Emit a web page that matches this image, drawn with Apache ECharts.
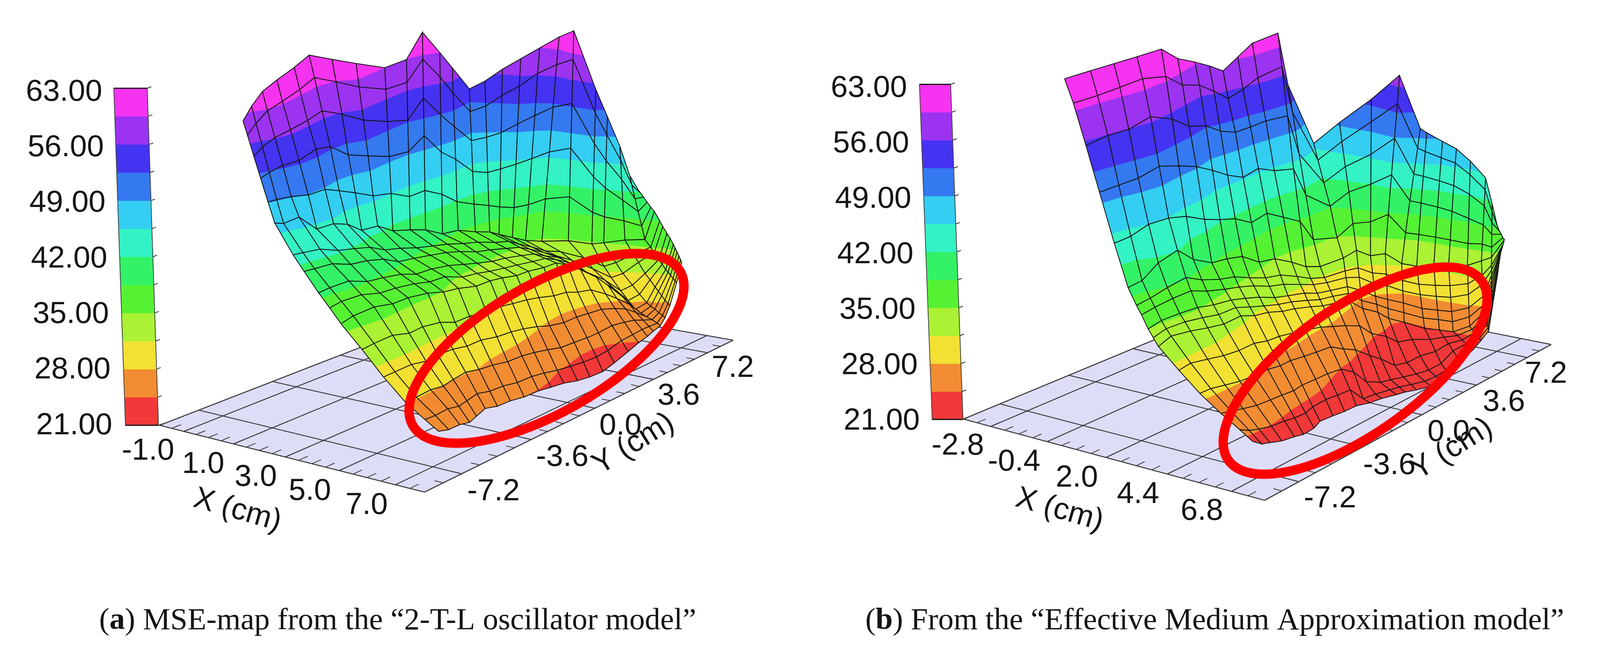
<!DOCTYPE html>
<html><head><meta charset="utf-8"><style>html,body{margin:0;background:#fff;overflow:hidden}#c{height:1672px}</style>
<script src="https://cdn.jsdelivr.net/npm/echarts@6/dist/echarts.min.js"></script></head><body><div id="c"></div><script>
const zBarTicks=['21.00','28.00','35.00','42.00','49.00','56.00','63.00'];
const bandLevels=[21,24.5,28,31.5,35,38.5,42,45.5,49,52.5,56,59.5,63];
const bandColors=['#F23838','#F28C33','#F2E033','#AAF233','#55F233','#33F266','#33F2C4','#33CEF2','#3479EF','#4433F0','#9B33F0','#F533F0'];
const leftXTicks=[-1,1,3,5,7], leftXMinor=0.5, leftXRange=[-2,8];
const rightXTicks=[-2.8,-0.4,2,4.4,6.8], rightXMinor=0.6, rightXRange=[-4,8];
const yTicks=[-7.2,-3.6,0,3.6,7.2], yMinor=0.9, yRange=[-9,9];
const crossFrac=[0,.073,.177,.287,.406,.515,.591,.636,.695,.74,.785,.833,.881,.929,.971,1];
const ctlFrac=[0,.515,.785,1];
const leftLineX=[[0,1.1,3.5,7.2],[0,1.2,3.5,7.2],[.1,1.4,3.6,7.1],[.1,1.7,3.7,7.1],[-.1,1.8,3.7,7],[-.3,1.8,3.8,6.9],[0,1.9,3.9,7],[.6,2,3.7,7],[.7,2,3.7,7.1],[.7,2.1,3.7,7.1],[.7,2.2,3.7,7.1],[1.2,2.3,3.8,7],[1.5,2.3,3.8,7],[1.5,2.5,3.9,6.9],[2,2.6,4,6.9],[2.5,2.7,4.2,6.9],[3.1,2.9,4.4,7],[3.6,3.1,4.9,7.1],[4.3,3.3,5.3,7.2],[5,4.1,5.8,7.3],[5.6,4.9,6.4,7.4],[5.8,5.3,6.6,7.4],[6.1,6,6.8,7.3],[6.3,6.7,7.2,7.5],[6.5,7,7.6,7.8]];
const leftLineY=[[-7.4,-7.2,-7,-7.2],[-7,-6.9,-6.4,-6.7],[-6.6,-6.4,-5.5,-6],[-5.9,-5.9,-4.7,-5.5],[-4.8,-5.2,-3.9,-5],[-3.8,-4.5,-3,-4.4],[-3,-3.9,-2.3,-3.9],[-2.5,-3.2,-1.2,-3.2],[-1.1,-2.4,-.2,-2.6],[.1,-1.6,.6,-1.8],[1,-.9,1.3,-1.1],[1.3,-.1,2,-.2],[1.6,.8,2.7,.6],[2.6,1.5,3.5,1.5],[2.8,2.2,4.1,2.3],[3.1,2.6,4.5,3],[3.3,3.1,5,3.7],[3.7,3.6,5.2,4.2],[3.8,4.3,5.3,4.6],[3.6,4.7,5.4,4.8],[4,4.9,5.2,5.1],[4.4,5,5.6,5.4],[4.7,5.2,5.8,5.9],[5,5.3,5.8,6],[5.2,5.4,5.6,5.8]];
const leftZ=[
[58.7,57.0,54.5,51.9,49.1,46.6,43.1,41.3,39.0,37.4,35.7,33.2,30.5,28.1,26.6,25.6],
[60.1,58.1,55.3,52.3,49.1,46.3,43.0,41.2,39.1,37.6,36.0,33.3,30.5,28.1,26.5,25.2],
[61.6,59.3,56.1,52.8,49.1,46.7,42.9,41.2,39.2,37.6,36.2,33.4,30.5,28.1,26.4,24.9],
[62.3,59.8,56.5,52.9,48.9,44.9,42.3,40.6,38.5,37.1,35.8,32.9,30.2,27.9,26.1,24.6],
[62.6,60.1,56.6,53.4,48.8,44.9,41.8,40.3,38.2,36.9,35.7,32.9,30.2,28.0,26.1,24.7],
[63.0,60.5,56.8,52.8,47.8,44.1,41.2,39.7,37.8,36.6,35.4,32.6,30.1,28.1,26.2,24.9],
[61.9,59.4,55.8,51.2,47.0,42.8,40.3,38.8,37.2,36.2,34.9,32.0,29.9,27.9,26.0,24.7],
[61.3,58.6,54.8,50.7,46.1,42.7,39.7,38.3,36.8,35.7,34.1,31.6,29.6,27.5,25.8,24.6],
[59.5,57.1,53.5,49.6,45.5,41.3,38.9,37.8,36.3,34.7,33.4,31.2,29.2,27.2,25.6,24.5],
[59.4,56.9,52.7,49.3,44.3,40.7,38.4,37.4,35.7,34.4,33.3,31.1,29.0,27.1,25.5,24.4],
[62.0,59.0,54.7,50.6,44.4,40.1,38.0,36.9,35.2,34.0,33.0,30.8,28.7,26.8,25.2,24.1],
[59.5,56.7,52.4,48.2,43.4,38.9,37.4,36.2,34.8,33.8,32.7,30.6,28.2,26.3,24.6,23.6],
[57.5,54.5,50.6,46.8,41.8,38.5,36.8,35.7,34.5,33.5,32.6,30.2,27.6,25.8,24.3,23.1],
[54.0,51.4,48.1,44.6,40.9,37.8,36.2,35.3,34.2,33.3,32.4,29.7,27.2,25.6,23.9,22.6],
[55.1,52.1,48.4,44.2,40.3,37.2,35.8,34.9,33.9,33.2,32.5,29.6,27.3,25.5,23.8,22.5],
[56.6,53.4,48.9,44.5,39.9,36.6,35.2,34.4,33.4,32.8,32.0,29.3,27.3,25.6,24.0,22.9],
[58.1,54.7,50.0,45.0,39.6,35.9,34.5,33.7,32.9,32.1,31.1,29.2,27.4,26.0,24.7,23.7],
[59.4,56.2,50.9,45.5,39.7,35.2,33.8,33.1,31.9,31.0,30.3,28.7,27.4,26.2,25.1,24.4],
[61.1,57.5,52.0,46.2,40.1,34.6,33.4,32.4,31.0,30.2,29.4,28.2,27.3,26.3,25.5,24.9],
[62.5,58.7,52.9,47.0,40.6,34.8,32.8,31.5,30.2,29.2,28.2,27.6,26.9,26.3,25.8,25.4],
[55.2,52.1,48.0,43.6,38.9,34.7,32.1,30.8,29.3,28.2,27.2,26.9,26.6,26.4,26.1,25.9],
[51.6,49.2,45.8,42.2,38.4,35.0,32.6,31.3,29.9,28.8,27.8,27.5,27.3,27.0,26.8,26.6],
[47.8,46.0,43.5,40.8,38.1,35.6,33.8,32.8,31.4,30.6,29.7,29.2,28.7,28.2,27.8,27.6],
[44.0,42.8,41.1,39.5,37.7,36.0,35.0,34.3,33.4,32.8,32.1,31.8,31.4,31.0,30.7,30.5],
[42.2,41.8,41.3,40.7,40.1,39.6,38.5,37.8,37.0,36.4,35.7,35.2,34.7,34.2,33.7,33.4]];
const rightLineX=[[-1.6,1.3,2.6,6.1],[-1.4,1.4,2.5,6.3],[-1.2,1.6,2.6,6.4],[-1,1.7,2.7,6.5],[-.8,1.6,2.7,6.5],[-.7,1.7,2.6,6.5],[-.7,1.6,2.6,6.5],[-.3,1.6,2.6,6.4],[0,1.6,2.7,6.3],[.2,1.5,2.8,6.1],[.4,1.6,3,5.8],[.6,1.8,3.1,6],[.9,2,3.1,6.1],[1,2.2,3.1,6.3],[2.1,2.5,3.2,6.4],[3.5,2.9,3.4,6.6],[4.9,3.4,3.6,6.8],[5.2,3.9,4,6.8],[5.4,4.4,4.9,6.6],[5.8,5.1,5.5,6.5],[6.3,5.7,6,6.9],[6.8,6.4,6.6,7.1],[7.4,6.9,7,7.3],[7.6,7.3,7.3,7.3],[7.6,7.8,7.6,7.5]];
const rightLineY=[[-6.7,-7,-7.1,-6.9],[-5.6,-6.4,-6.3,-6.7],[-4.6,-5.8,-5.4,-6.4],[-3.6,-4.9,-4.6,-5.9],[-2.5,-3.9,-3.7,-5.2],[-1.7,-3,-2.6,-4.7],[-.7,-2,-1.8,-4.1],[-.4,-1.1,-1,-3.6],[0,-.1,-.3,-2.7],[.6,1,.3,-1.7],[1.2,1.9,1,-.5],[2.5,2.5,1.6,0],[2.7,3.1,2.4,.6],[4.2,4.3,3.3,1.2],[4.2,4.7,4,1.6],[4.1,5,4.7,2],[3.7,5.2,5.1,2.6],[4.6,5.5,5.5,3.3],[4.7,5.7,5.4,4.2],[5.1,5.7,5.4,5.1],[5.2,5.7,5.5,5.3],[5.3,5.8,5.6,5.5],[5.3,5.9,5.9,5.7],[5.4,5.9,5.9,6],[5.8,5.9,6,5.9]];
const rightZ=[
[63.0,60.3,55.5,50.2,44.4,39.4,37.5,36.5,35.0,34.1,33.2,30.8,28.5,26.6,25.1,24.0],
[63.0,60.3,55.9,50.3,44.6,39.7,37.7,36.7,35.2,34.3,33.5,30.9,28.5,26.5,24.8,23.6],
[63.0,60.5,55.9,50.5,45.5,41.4,38.4,37.1,35.3,34.3,33.2,30.6,28.3,26.3,24.6,23.5],
[63.0,60.7,56.6,51.1,45.4,42.1,38.8,37.2,35.2,34.0,32.8,30.3,28.1,26.1,24.4,23.2],
[63.0,60.0,55.3,50.1,44.5,39.8,37.4,36.1,34.5,33.4,32.3,30.0,27.9,25.9,24.2,22.9],
[61.1,58.2,53.6,49.2,43.3,38.5,36.5,35.3,34.0,33.1,32.1,29.8,27.7,25.7,23.9,22.6],
[59.7,57.2,52.7,47.7,42.2,37.9,35.8,34.6,33.3,32.3,31.3,29.3,27.4,25.5,23.8,22.7],
[59.2,56.3,51.7,46.6,41.6,37.3,34.8,33.9,32.6,31.6,30.9,29.1,27.3,25.5,23.9,22.9],
[58.4,55.1,51.1,45.7,40.3,35.6,33.9,33.0,31.8,31.1,30.4,28.8,27.0,25.3,23.8,22.5],
[59.7,55.7,51.1,46.0,40.5,34.9,33.3,32.4,31.3,30.8,30.2,28.5,26.7,25.0,23.2,21.8],
[61.0,56.7,51.3,45.1,39.3,33.7,32.4,31.7,31.0,30.4,29.9,28.1,26.4,24.4,22.5,21.0],
[61.2,57.1,51.1,44.6,38.2,32.7,31.7,31.2,30.5,30.0,29.5,27.7,25.7,23.6,21.0,21.0],
[54.7,51.3,46.2,41.1,35.6,32.3,31.3,30.9,30.2,29.7,29.1,27.1,24.9,21.8,21.0,21.0],
[46.1,44.1,41.4,38.6,34.8,32.4,31.2,30.6,29.8,29.2,28.5,26.3,23.5,21.1,21.0,21.0],
[49.4,47.0,43.8,40.6,36.6,33.2,31.3,30.3,28.9,27.8,27.0,24.8,22.6,21.0,21.0,21.0],
[53.3,50.3,46.0,42.0,37.0,32.5,30.5,29.3,27.8,26.9,26.0,24.0,21.4,21.0,21.0,21.0],
[57.6,53.7,48.9,43.8,38.3,32.9,30.4,29.0,27.3,26.2,25.0,23.0,21.4,21.0,21.0,21.0],
[50.3,47.6,44.0,40.3,35.9,31.7,29.6,28.3,26.8,25.6,24.4,23.1,21.9,21.0,21.0,21.0],
[49.8,47.2,43.8,40.1,35.8,31.5,29.4,28.2,26.6,25.5,24.3,23.4,22.4,21.4,21.0,21.0],
[48.6,46.4,43.3,39.8,35.8,32.0,29.7,28.4,26.8,25.7,24.5,23.8,23.2,22.5,21.9,21.5],
[47.9,46.0,43.0,39.6,35.8,32.4,30.0,28.6,26.9,25.7,24.5,24.2,23.8,23.5,23.2,23.0],
[46.6,44.8,42.2,39.0,35.7,32.8,30.6,29.3,27.7,26.6,25.5,25.2,24.9,24.6,24.3,24.1],
[44.9,43.3,41.1,38.5,35.9,33.6,31.8,30.7,29.2,28.1,27.2,26.8,26.4,25.9,25.6,25.3],
[41.7,40.6,39.1,37.5,35.7,34.3,33.3,32.7,32.0,31.4,30.8,30.3,29.7,29.2,28.7,28.4],
[38.3,38.1,37.8,37.5,37.1,36.8,36.2,35.9,35.5,35.2,34.9,34.1,33.4,32.6,31.9,31.5]];
const captionA='({b|a}) MSE-map from the “2-T-L oscillator model”';
const captionB='({b|b}) From the “Effective Medium Approximation model”';

const PAGE_W=Math.min(window.innerWidth||4260,4260), FIT=PAGE_W/4260;
document.getElementById('c').style.width=PAGE_W+'px';
const TICK_FONT=Math.round(80*Math.sqrt(FIT))+'px "Liberation Sans"';
function makeProjection(corners,xr,yr,k){
  const [p0,p1,p2,p3]=corners;
  const dx1=p1[0]-p2[0],dy1=p1[1]-p2[1],dx2=p3[0]-p2[0],dy2=p3[1]-p2[1],sx=p0[0]-p1[0]+p2[0]-p3[0],sy=p0[1]-p1[1]+p2[1]-p3[1];
  const det=dx1*dy2-dy1*dx2,g=(sx*dy2-sy*dx2)/det,h=(dx1*sy-dy1*sx)/det;
  const a=p1[0]-p0[0]+g*p1[0],b=p3[0]-p0[0]+h*p3[0],c=p0[0],d=p1[1]-p0[1]+g*p1[1],e=p3[1]-p0[1]+h*p3[1],f=p0[1];
  return (X,Y,z)=>{const u=(X-xr[0])/(xr[1]-xr[0]),v=(Y-yr[0])/(yr[1]-yr[0]),D=1+g*u+h*v;return[(a*u+b*v+c)/D,(d*u+e*v+f)/D-k*((z===undefined?21:z)-21)];};
}
function buildNodes(proj,lx,ly,Z){
  return Z.map((row,i)=>row.map((z,j)=>{
    const t=crossFrac[j];let m=0;while(m<2&&t>ctlFrac[m+1])m++;
    const r=(t-ctlFrac[m])/(ctlFrac[m+1]-ctlFrac[m]);
    const X=lx[i][m]+(lx[i][m+1]-lx[i][m])*r,Y=ly[i][m]+(ly[i][m+1]-ly[i][m])*r;
    const p=proj(X,Y,z);return{x:p[0],y:p[1],z};
  }));
}
function clipBand(poly,lo,hi){
  const cut=(pts,keep,level)=>{const out=[];for(let i=0;i<pts.length;i++){const A=pts[i],B=pts[(i+1)%pts.length],ka=keep(A.z),kb=keep(B.z);
    if(ka)out.push(A);
    if(ka!==kb){const q=(level-A.z)/(B.z-A.z);out.push({x:A.x+(B.x-A.x)*q,y:A.y+(B.y-A.y)*q,z:level});}}return out;};
  let p=cut(poly,z=>z>=lo,lo);if(p.length)p=cut(p,z=>z<=hi,hi);return p;
}
function surfaceSeries(nodes){
  const cells=[];for(let i=nodes.length-2;i>=0;i--)for(let j=0;j<nodes[0].length-1;j++)cells.push([i,j]);
  return {type:'custom',silent:true,z:5,animation:false,clip:false,progressive:0,data:cells,
    renderItem:(p,api)=>{const i=api.value(0),j=api.value(1),q=[nodes[i][j],nodes[i+1][j],nodes[i+1][j+1],nodes[i][j+1]];
      const ch=[];const c=n=>api.coord([n.x,n.y]);
      bandColors.forEach((col,b)=>{const poly=clipBand(q,bandLevels[b]-(b===0?9:0),bandLevels[b+1]+(b===bandColors.length-1?9:0));
        if(poly.length>2)ch.push({type:'polygon',shape:{points:poly.map(c)},style:{fill:col,stroke:col,lineWidth:1}});});
      ch.push({type:'polyline',shape:{points:[...q,q[0]].map(c)},style:{fill:null,stroke:'#141414',lineWidth:2.1}});
      return{type:'group',children:ch};}};
}
function floorSeries(proj,xr,xt,xm){
  const seg=(a,b,w)=>({a,b,w});
  const c=[[xr[0],yRange[0]],[xr[1],yRange[0]],[xr[1],yRange[1]],[xr[0],yRange[1]]];
  const lines=[];
  xt.forEach(x=>lines.push(seg(proj(x,yRange[0]),proj(x,yRange[1]),2.4)));
  yTicks.forEach(y=>lines.push(seg(proj(xr[0],y),proj(xr[1],y),2.4)));
  for(let i=0;i<4;i++)lines.push(seg(proj(...c[i]),proj(...c[(i+1)%4]),2.6));
  for(let x=xt[0]-xm*2;x<xr[1];x+=xm){if(x>xr[0]+.01)lines.push(seg(proj(x,yRange[0]),proj(x,yRange[0]+.42),2));}
  for(let y=yTicks[0]-yMinor;y<yRange[1];y+=yMinor){if(y>yRange[0]+.01)lines.push(seg(proj(xr[1],y),proj(xr[1]-.3,y),2));}
  return {type:'custom',silent:true,z:1,animation:false,clip:false,data:[0],
    renderItem:(p,api)=>{const C=q=>api.coord(q);
      return{type:'group',children:[{type:'polygon',shape:{points:c.map(q=>C(proj(...q)))},style:{fill:'#DDDDF8'}},
        ...lines.map(l=>({type:'polyline',shape:{points:[C(l.a),C(l.b)]},style:{fill:null,stroke:'#3a3a3a',lineWidth:l.w}}))]};}};
}
function barSeries(bl,br,tl,tr){
  const at=(P,Q,z)=>{const q=(z-21)/42;return[P[0]+(Q[0]-P[0])*q,P[1]+(Q[1]-P[1])*q];};
  return {type:'custom',silent:true,z:2,animation:false,clip:false,data:[0],
    renderItem:(p,api)=>{const C=q=>api.coord(q),ch=[];
      bandColors.forEach((col,b)=>{const lo=bandLevels[b],hi=bandLevels[b+1];
        ch.push({type:'polygon',shape:{points:[at(bl,tl,lo),at(br,tr,lo),at(br,tr,hi),at(bl,tl,hi)].map(C)},style:{fill:col,stroke:col,lineWidth:1}});});
      ch.push({type:'polygon',shape:{points:[bl,br,tr,tl].map(C)},style:{fill:null,stroke:'#444',lineWidth:2}});
      [[bl,br],[tl,tr]].forEach(e=>ch.push({type:'polyline',shape:{points:e.map(C)},style:{fill:null,stroke:'#111',lineWidth:3}}));
      bandLevels.forEach(l=>{const a=at(br,tr,l);ch.push({type:'polyline',shape:{points:[a,[a[0]+11,a[1]-4]].map(C)},style:{fill:null,stroke:'#333',lineWidth:2}});});
      return{type:'group',children:ch};}};
}
function ringSeries(cx,cy,a,b,deg){
  const th=deg*Math.PI/180,pts=[];
  for(let i=0;i<240;i++){const t=i/240*2*Math.PI,ex=a*Math.cos(t),ey=b*Math.sin(t);pts.push([cx+ex*Math.cos(th)-ey*Math.sin(th),cy-ex*Math.sin(th)-ey*Math.cos(th)]);}
  return {type:'custom',silent:true,z:8,animation:false,clip:false,data:[0],
    renderItem:(p,api)=>({type:'polygon',shape:{points:pts.map(q=>api.coord(q))},style:{fill:null,stroke:'#FF0000',lineWidth:24}})};
}
function txt(text,x,y,opt={}){return{type:'text',silent:true,z:10,x:x*FIT,y,rotation:(opt.rot||0)*Math.PI/180,style:{text,font:opt.font||TICK_FONT,fill:'#141414',textAlign:opt.align||'center',textVerticalAlign:'middle',rich:opt.rich}};}

const pL=makeProjection([[425,1089],[1130,1260],[1952,871],[1304,761]],leftXRange,yRange,20.55);
const pR=makeProjection([[2565,1073],[3367,1281],[4130,882],[3394,742]],rightXRange,yRange,20.43);
const leftNodes=buildNodes(pL,leftLineX,leftLineY,leftZ), rightNodes=buildNodes(pR,rightLineX,rightLineY,rightZ);
const series=[
 floorSeries(pL,leftXRange,leftXTicks,leftXMinor),floorSeries(pR,rightXRange,rightXTicks,rightXMinor),
 barSeries([334,1089],[422,1089],[303,226],[392,226]),barSeries([2482,1074],[2564,1074],[2448,216],[2531,216]),
 surfaceSeries(leftNodes),surfaceSeries(rightNodes),
 ringSeries(1455,892,407,165,28.6),ringSeries(3608,949,408,165,33.8)];
const gfx=[];
zBarTicks.forEach((s,i)=>{const q=i/6;
  gfx.push(txt(s,299+(272-299)*q,1090+(236-1090)*q,{align:'right'}));
  gfx.push(txt(s,2449+(2415-2449)*q,1078+(226-1078)*q,{align:'right'}));});
const fmt=v=>v.toFixed(1);
[[394,1155],[541,1189],[681,1222],[825,1258],[976,1294]].forEach((p,i)=>gfx.push(txt(fmt(leftXTicks[i]),p[0],p[1])));
[[2550,1142],[2700,1183],[2867,1224],[3030,1266],[3200,1309]].forEach((p,i)=>gfx.push(txt(fmt(rightXTicks[i]),p[0],p[1])));
[[1314,1259],[1497,1171],[1652,1091],[1807,1014],[1951,943]].forEach((p,i)=>gfx.push(txt(fmt(yTicks[i]),p[0],p[1])));
[[3541,1277],[3699,1192],[3857,1107],[4004,1030],[4116,958]].forEach((p,i)=>gfx.push(txt(fmt(yTicks[i]),p[0],p[1])));
gfx.push(txt('X (cm)',632,1307,{rot:-16}),txt('X (cm)',2821,1306,{rot:-16}),txt('Y (cm)',1687,1137,{rot:32}),txt('Y (cm)',3866,1150,{rot:32}));
const capSize=Math.round(82*FIT),capFont=capSize+'px "Liberation Serif"',capRich={b:{font:'bold '+capSize+'px "Liberation Serif"',fill:'#141414'}};
gfx.push(txt(captionA,264,1590,{font:capFont,align:'left',rich:capRich}),txt(captionB,2304,1590,{font:capFont,align:'left',rich:capRich}));
const chart=echarts.init(document.getElementById('c'),null,{renderer:'canvas',width:PAGE_W,height:1672});
chart.setOption({animation:false,backgroundColor:'#fff',
  grid:{left:0,right:0,top:0,bottom:0},
  xAxis:{type:'value',min:0,max:4260,show:false},
  yAxis:{type:'value',min:0,max:1672,inverse:true,show:false},
  series,graphic:{elements:gfx}});
</script></body></html>
